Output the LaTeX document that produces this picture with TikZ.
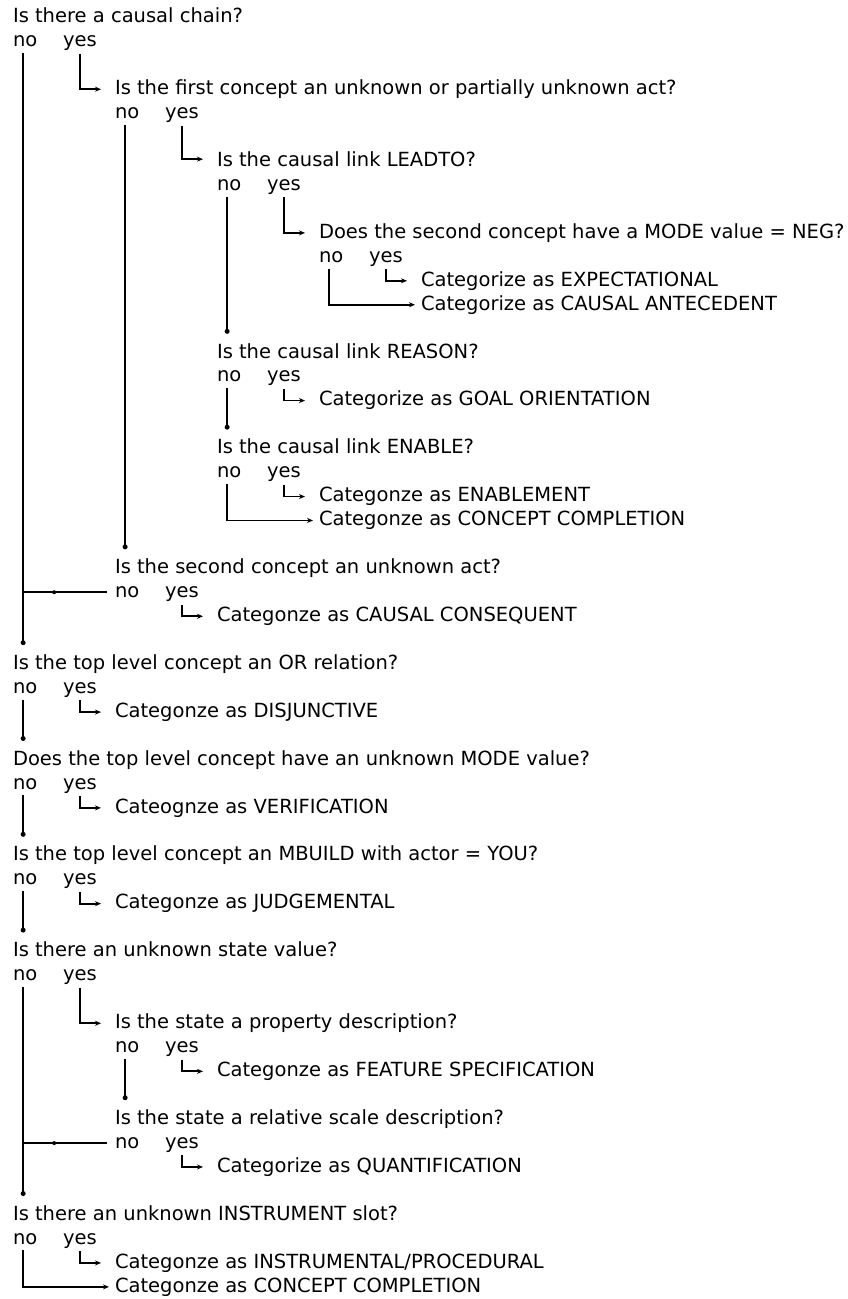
\documentclass[tikz,border=0pt]{standalone}
\usepackage{fontspec}
\setmainfont{DejaVu Sans}
\usetikzlibrary{arrows.meta}
\begin{document}
\begin{tikzpicture}
\tikzset{
  txt/.style={anchor=mid west, inner sep=0pt, outer sep=0pt,
    font=\fontsize{19.5}{24}\selectfont},
  wire/.style={line width=1.8pt},
  arr/.style={wire, -{Stealth[length=6pt,width=5pt]}},
  enddot/.style={circle, fill=black, inner sep=0pt, minimum size=5pt},
  middot/.style={circle, fill=black, inner sep=0pt, minimum size=4pt},
}
\useasboundingbox (0pt,0pt) rectangle (848pt,-1299pt);
\begin{scope}[x=1pt, y=-23.95pt, yshift=-20pt]
  % rows where the "no" branches stop
  \coordinate (k13) at (0,13);
  \coordinate (k17) at (0,17);
  \coordinate (k22) at (0,22);
  \coordinate (k26) at (0,26);
  \coordinate (k30) at (0,30);
  \coordinate (k34) at (0,34);
  \coordinate (k38) at (0,38);
  \coordinate (k45) at (0,45);
  \coordinate (k49) at (0,49);

  % questions, answers and categories
  \node[txt] (q1) at (13,0) {Is there a causal chain?};
  \node[txt] (n1) at (13,1) {no};  \node[txt] (y1) at (63,1) {yes};
  \node[txt] (q2) at (115,3) {Is the first concept an unknown or partially unknown act?};
  \node[txt] (n2) at (115,4) {no}; \node[txt] (y2) at (165,4) {yes};
  \node[txt] (q3) at (217,6) {Is the causal link LEADTO?};
  \node[txt] (n3) at (217,7) {no}; \node[txt] (y3) at (267,7) {yes};
  \node[txt] (q4) at (319,9) {Does the second concept have a MODE value = NEG?};
  \node[txt] (n4) at (319,10) {no}; \node[txt] (y4) at (369,10) {yes};
  \node[txt] (c1) at (421,11) {Categorize as EXPECTATIONAL};
  \node[txt] (c2) at (421,12) {Categorize as CAUSAL ANTECEDENT};
  \node[txt] (q5) at (217,14) {Is the causal link REASON?};
  \node[txt] (n5) at (217,15) {no}; \node[txt] (y5) at (267,15) {yes};
  \node[txt] (c3) at (319,16) {Categorize as GOAL ORIENTATION};
  \node[txt] (q6) at (217,18) {Is the causal link ENABLE?};
  \node[txt] (n6) at (217,19) {no}; \node[txt] (y6) at (267,19) {yes};
  \node[txt] (c4) at (319,20) {Categonze as ENABLEMENT};
  \node[txt] (c5) at (319,21) {Categonze as CONCEPT COMPLETION};
  \node[txt] (q7) at (115,23) {Is the second concept an unknown act?};
  \node[txt] (n7) at (115,24) {no}; \node[txt] (y7) at (165,24) {yes};
  \node[txt] (c6) at (217,25) {Categonze as CAUSAL CONSEQUENT};
  \node[txt] (q8) at (13,27) {Is the top level concept an OR relation?};
  \node[txt] (n8) at (13,28) {no}; \node[txt] (y8) at (63,28) {yes};
  \node[txt] (c7) at (115,29) {Categonze as DISJUNCTIVE};
  \node[txt] (q9) at (13,31) {Does the top level concept have an unknown MODE value?};
  \node[txt] (n9) at (13,32) {no}; \node[txt] (y9) at (63,32) {yes};
  \node[txt] (c8) at (115,33) {Cateognze as VERIFICATION};
  \node[txt] (q10) at (13,35) {Is the top level concept an MBUILD with actor = YOU?};
  \node[txt] (n10) at (13,36) {no}; \node[txt] (y10) at (63,36) {yes};
  \node[txt] (c9) at (115,37) {Categonze as JUDGEMENTAL};
  \node[txt] (q11) at (13,39) {Is there an unknown state value?};
  \node[txt] (n11) at (13,40) {no}; \node[txt] (y11) at (63,40) {yes};
  \node[txt] (q12) at (115,42) {Is the state a property description?};
  \node[txt] (n12) at (115,43) {no}; \node[txt] (y12) at (165,43) {yes};
  \node[txt] (c10) at (217,44) {Categonze as FEATURE SPECIFICATION};
  \node[txt] (q13) at (115,46) {Is the state a relative scale description?};
  \node[txt] (n13) at (115,47) {no}; \node[txt] (y13) at (165,47) {yes};
  \node[txt] (c11) at (217,48) {Categorize as QUANTIFICATION};
  \node[txt] (q14) at (13,50) {Is there an unknown INSTRUMENT slot?};
  \node[txt] (n14) at (13,51) {no}; \node[txt] (y14) at (63,51) {yes};
  \node[txt] (c12) at (115,52) {Categonze as INSTRUMENTAL/PROCEDURAL};
  \node[txt] (c13) at (115,53) {Categonze as CONCEPT COMPLETION};

  % "no" branches falling through to the next question
  \draw[wire] ([xshift=-2pt,yshift=-6pt]n1.south) -- ([xshift=-2pt]n1.south |- k26) node[enddot]{};
  \draw[wire] ([xshift=-8pt]n7.west) -- node[middot, pos=0.63]{} ([xshift=-2pt]n1.south |- n7.west);
  \draw[wire] ([xshift=-2pt,yshift=-6pt]n2.south) -- ([xshift=-2pt]n2.south |- k22) node[enddot]{};
  \draw[wire] ([xshift=-2pt,yshift=-6pt]n3.south) -- ([xshift=-2pt]n3.south |- k13) node[enddot]{};
  \draw[wire] ([xshift=-2pt,yshift=-6pt]n5.south) -- ([xshift=-2pt]n5.south |- k17) node[enddot]{};
  \draw[wire] ([xshift=-2pt,yshift=-6pt]n8.south) -- ([xshift=-2pt]n8.south |- k30) node[enddot]{};
  \draw[wire] ([xshift=-2pt,yshift=-6pt]n9.south) -- ([xshift=-2pt]n9.south |- k34) node[enddot]{};
  \draw[wire] ([xshift=-2pt,yshift=-6pt]n10.south) -- ([xshift=-2pt]n10.south |- k38) node[enddot]{};
  \draw[wire] ([xshift=-2pt,yshift=-6pt]n11.south) -- ([xshift=-2pt]n11.south |- k49) node[enddot]{};
  \draw[wire] ([xshift=-8pt]n13.west) -- node[middot, pos=0.63]{} ([xshift=-2pt]n11.south |- n13.west);
  \draw[wire] ([xshift=-2pt,yshift=-6pt]n12.south) -- ([xshift=-2pt]n12.south |- k45) node[enddot]{};

  % "no" branches ending in a category
  \draw[arr] ([xshift=-2pt,yshift=-6pt]n4.south) |- ([xshift=-6pt]c2.west);
  \draw[arr] ([xshift=-2pt,yshift=-6pt]n6.south) |- ([xshift=-6pt]c5.west);
  \draw[arr] ([xshift=-2pt,yshift=-6pt]n14.south) |- ([xshift=-6pt]c13.west);

  % "yes" branches into a further question
  \draw[arr] ([yshift=-3pt]y1.south) |- ([xshift=-14pt]q2.west);
  \draw[arr] ([yshift=-3pt]y2.south) |- ([xshift=-14pt]q3.west);
  \draw[arr] ([yshift=-3pt]y3.south) |- ([xshift=-14pt]q4.west);
  \draw[arr] ([yshift=-3pt]y11.south) |- ([xshift=-14pt]q12.west);

  % "yes" branches into a category
  \draw[arr] ([yshift=-3pt]y4.south) |- ([xshift=-14pt]c1.west);
  \draw[arr] ([yshift=-3pt]y5.south) |- ([xshift=-14pt]c3.west);
  \draw[arr] ([yshift=-3pt]y6.south) |- ([xshift=-14pt]c4.west);
  \draw[arr] ([yshift=-3pt]y7.south) |- ([xshift=-14pt]c6.west);
  \draw[arr] ([yshift=-3pt]y8.south) |- ([xshift=-14pt]c7.west);
  \draw[arr] ([yshift=-3pt]y9.south) |- ([xshift=-14pt]c8.west);
  \draw[arr] ([yshift=-3pt]y10.south) |- ([xshift=-14pt]c9.west);
  \draw[arr] ([yshift=-3pt]y12.south) |- ([xshift=-14pt]c10.west);
  \draw[arr] ([yshift=-3pt]y13.south) |- ([xshift=-14pt]c11.west);
  \draw[arr] ([yshift=-3pt]y14.south) |- ([xshift=-14pt]c12.west);
\end{scope}
\end{tikzpicture}
\end{document}
